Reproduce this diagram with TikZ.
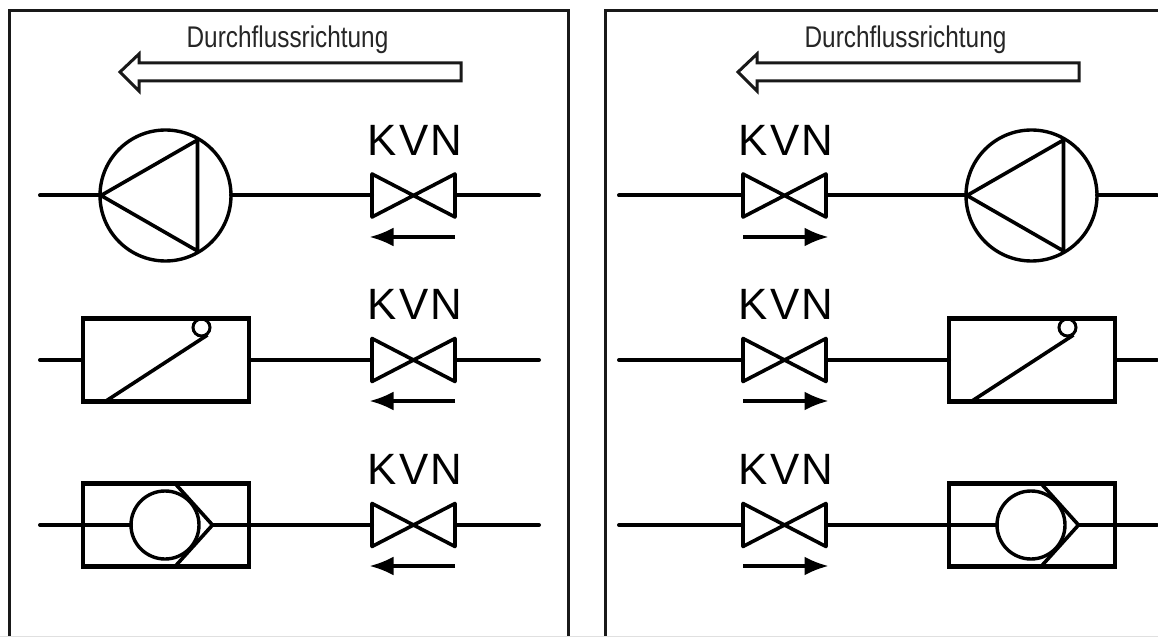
\documentclass[tikz,border=0pt]{standalone}
\usepackage{fontspec}
\setmainfont{Liberation Sans}
\newfontfamily\narrowsans[FakeStretch=0.815]{Liberation Sans}
\newfontfamily\kvnsans[LetterSpace=5]{Liberation Sans}
\usetikzlibrary{arrows.meta}
\tikzset{
  x=1bp,y=-1bp,
  frameline/.style={line width=3.0bp,black!90},
  pipe/.style={line width=4bp,line cap=round},
  sym/.style={line width=3.6bp,line join=round},
  pumpnode/.style={circle,draw,line width=3.4bp,minimum size=131bp,inner sep=0pt,outer sep=0pt},
  boxnode/.style={rectangle,draw,line width=4.2bp,minimum width=166bp,minimum height=83bp,inner sep=0pt,outer sep=0pt},
  ballnode/.style={circle,draw,line width=3.4bp,minimum size=68bp,inner sep=0pt,outer sep=0pt},
  flapnode/.style={circle,draw,line width=3bp,minimum size=17bp,inner sep=0pt,outer sep=0pt},
  flowarrow/.style={line width=3.2bp,-{Latex[length=24bp,width=19bp]}},
  bigarrow/.style={line width=3bp,line join=miter,black!90},
  kvnlabel/.style={anchor=base,inner sep=0pt,font=\kvnsans\fontsize{44}{44}\selectfont},
  titlelabel/.style={anchor=base,inner sep=0pt,font=\narrowsans\fontsize{30}{30}\selectfont,black!85},
}
% name, centre x, valve y, label baseline y, arrow y, arrow direction (+1 right, -1 left)
\newcommand{\ValveSym}[6]{%
  \coordinate (#1w) at ({#2-41.5},#3);
  \coordinate (#1e) at ({#2+41.5},#3);
  \coordinate (#1nw) at ({#2-41.5},{#3-21.5});
  \coordinate (#1sw) at ({#2-41.5},{#3+21.5});
  \coordinate (#1ne) at ({#2+41.5},{#3-21.5});
  \coordinate (#1se) at ({#2+41.5},{#3+21.5});
  \draw[sym] (#1nw) -- (#1se) -- (#1ne) -- (#1sw) -- cycle;
  \node[kvnlabel] (#1lab) at ({#2+1.5},#4) {KVN};
  \coordinate (#1as) at ({#2-#6*41.5},#5);
  \coordinate (#1at) at ({#2+#6*44},#5);
  \draw[flowarrow] (#1as) -- (#1at);
}
\newcommand{\Panel}[7]{%
  \coordinate (#1b1) at ({120+#7},72);
  \coordinate (#1b2) at ({139+#7},54);
  \coordinate (#1b3) at ({139+#7},63);
  \coordinate (#1b4) at ({461+#7},63);
  \coordinate (#1b5) at ({461+#7},81);
  \coordinate (#1b6) at ({139+#7},81);
  \coordinate (#1b7) at ({139+#7},91);
  \draw[bigarrow] (#1b1) -- (#1b2) -- (#1b3) -- (#1b4) -- (#1b5) -- (#1b6) -- (#1b7) -- cycle;
  \node[titlelabel] (#1title) at ({287.5+#7},48) {Durchflussrichtung};
  \ValveSym{#1va}{#3}{195.5}{156}{237}{#4}
  \ValveSym{#1vb}{#3}{360}{320}{401}{#4}
  \ValveSym{#1vc}{#3}{525}{484}{566}{#4}
  \node[pumpnode] (#1pump) at ({165.5+#2},195.5) {};
  \coordinate (#1pa) at ({101+#2},195.5);
  \coordinate (#1pb) at ({197.5+#2},140);
  \coordinate (#1pc) at ({197.5+#2},251);
  \draw[sym] (#1pa) -- (#1pb) -- (#1pc) -- cycle;
  \node[boxnode] (#1box) at ({166+#2},360) {};
  \node[flapnode] (#1flap) at ({201.5+#2},327.5) {};
  \coordinate (#1da) at ({106+#2},401);
  \coordinate (#1db) at ({207.5+#2},335);
  \draw[sym] (#1da) -- (#1db);
  \node[boxnode] (#1boxb) at ({166+#2},525) {};
  \node[ballnode] (#1ball) at ({165+#2},525) {};
  \coordinate (#1ta) at ({175.5+#2},484);
  \coordinate (#1tb) at ({212.5+#2},525);
  \coordinate (#1tc) at ({175.5+#2},566);
  \draw[sym] (#1ta) -- (#1tb) -- (#1tc);
  \coordinate (#1s1) at (#5,195.5);
  \coordinate (#1s2) at (#5,360);
  \coordinate (#1s3) at (#5,525);
  \coordinate (#1e1) at (#6,195.5);
  \coordinate (#1e2) at (#6,360);
  \coordinate (#1e3) at (#6,525);
}
\begin{document}
\begin{tikzpicture}
\useasboundingbox (0,0) rectangle (1158,637);
\clip (0,0) rectangle (1158,637);
\fill[white] (0,0) rectangle (1158,637);
\coordinate (fa) at (9,645);
\coordinate (fb) at (9,11);
\coordinate (fc) at (568,11);
\coordinate (fd) at (568,645);
\coordinate (fe) at (605,645);
\coordinate (ff) at (605,11);
\coordinate (fg) at (1165,11);
\draw[frameline] (fa) -- (fb) -- (fc) -- (fd);
\draw[frameline] (fe) -- (ff) -- (fg);
\coordinate (ga) at (0,636.6);
\coordinate (gb) at (1158,636.6);
\draw[black!12,line width=.8bp] (ga) -- (gb);
\Panel{L}{0}{413.5}{-1}{40}{539}{0}
\draw[pipe] (Ls1) -- (Lpump.west);
\draw[pipe] (Lpump.east) -- (Lvaw);
\draw[pipe] (Lvae) -- (Le1);
\draw[pipe] (Ls2) -- (Lbox.west);
\draw[pipe] (Lbox.east) -- (Lvbw);
\draw[pipe] (Lvbe) -- (Le2);
\draw[pipe] (Ls3) -- (Lball.west);
\draw[pipe] (Ltb) -- (Lvcw);
\draw[pipe] (Lvce) -- (Le3);
\Panel{R}{866}{784.5}{1}{619}{1157}{618}
\draw[pipe] (Rs1) -- (Rvaw);
\draw[pipe] (Rvae) -- (Rpump.west);
\draw[pipe] (Rpump.east) -- (Re1);
\draw[pipe] (Rs2) -- (Rvbw);
\draw[pipe] (Rvbe) -- (Rbox.west);
\draw[pipe] (Rbox.east) -- (Re2);
\draw[pipe] (Rs3) -- (Rvcw);
\draw[pipe] (Rvce) -- (Rball.west);
\draw[pipe] (Rtb) -- (Re3);
\end{tikzpicture}
\end{document}
